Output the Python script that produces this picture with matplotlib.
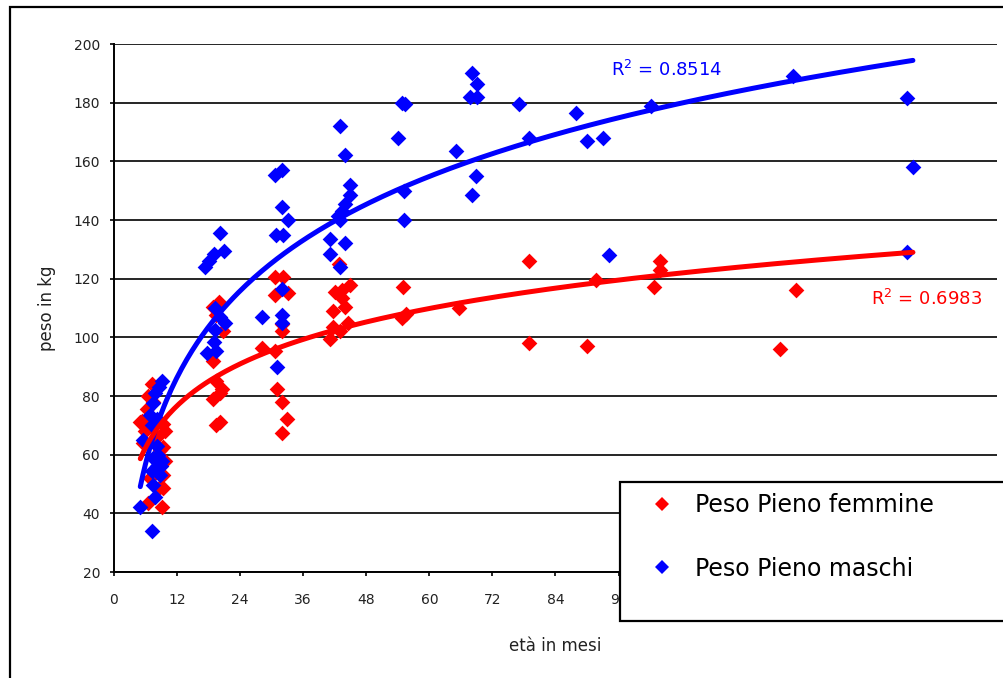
import numpy as np
import matplotlib
matplotlib.use("Agg")
import matplotlib.pyplot as plt
from matplotlib.patches import Rectangle
from matplotlib.lines import Line2D

# eta in mesi / peso in kg, femmine
eta_f = [7.2, 6.5, 6.2, 5.3, 5.0, 5.9, 9.4, 9.7, 5.6, 8.8, 9.4, 9.7, 9.4, 6.9, 8.8,
         9.4, 6.5, 9.1, 7.5, 8.1,
         19.9, 18.9, 19.4, 20.8, 18.9, 19.4, 20.5, 20.2, 18.9, 19.4, 20.2,
         28.1, 30.6, 32.2, 30.6, 33.2, 31.9, 31.9, 30.6, 31.0, 31.9, 32.9, 31.9,
         42.1, 43.3, 44.9, 41.7, 44.0, 43.3, 41.7, 44.6, 41.1, 43.0, 42.9,
         54.9, 54.8, 55.6, 65.7, 78.9, 78.9, 89.9, 91.8,
         102.7, 103.9, 103.9, 126.8, 129.8]
peso_f = [84, 80, 75.5, 71.5, 71, 68, 70.5, 68, 64, 61.5, 62.5, 58, 53, 52, 49,
          48.5, 43.5, 42, 78, 66,
          112, 110.5, 107.5, 102, 92, 85, 82.5, 81, 79, 70, 71,
          96.5, 120.5, 120.5, 114.5, 115, 104.5, 102, 95.5, 82.5, 78, 72, 67.5,
          115.5, 116, 118, 109, 110.5, 113.5, 103.5, 105, 99.5, 102, 125,
          117, 106.5, 108, 110, 126, 98, 97, 119.5,
          117, 126, 123, 96, 116]

# maschi
eta_m = [9.1, 8.6, 7.8, 7.5, 6.9, 7.2, 8.1, 5.6, 8.1, 7.5, 9.1, 8.1, 7.2, 8.8,
         7.5, 7.8, 5.0, 7.2, 8.4, 9.0,
         17.3, 18.0, 19.0, 20.9, 20.2, 19.2, 20.2, 21.1, 19.2, 19.0, 19.4, 17.6,
         28.1, 30.6, 31.9, 31.9, 33.2, 30.8, 32.2, 31.9, 31.9, 31.9, 31.1,
         43.0, 44.0, 44.9, 44.9, 44.0, 43.3, 42.7, 43.0, 41.1, 44.0, 41.1, 43.0,
         54.8, 55.3, 54.1, 55.1, 55.1,
         65.1, 68.1, 69.0, 67.8, 69.0, 68.9, 68.1,
         77.0, 78.9, 87.9, 90.0, 93.0, 94.1, 102.2, 129.2, 150.9, 152.0, 150.8]
peso_m = [85, 83, 81, 77.5, 73.5, 70, 72, 65, 63, 59, 58, 56, 54.5, 53,
          49.5, 45.5, 42, 34, 60, 56,
          124, 126, 128.5, 129.5, 135.5, 110, 107, 105, 102.5, 98.5, 95.5, 94.5,
          107, 155.5, 157, 144.5, 140, 135, 135, 116.5, 107.5, 105, 90,
          172, 162, 152, 148.5, 145.5, 143, 141.5, 140, 133.5, 132, 128.5, 124,
          180, 179.5, 168, 150, 140,
          163.5, 190, 186.5, 182, 182, 155, 148.5,
          179.5, 168, 176.5, 167, 168, 128, 179, 189, 181.5, 158, 129]

label_f = "Peso Pieno femmine"
label_m = "Peso Pieno maschi"
r2_f = "R$^2$ = 0.6983"
r2_m = "R$^2$ = 0.8514"

RED = "#FF0000"
BLUE = "#0000FF"

W, H = 1004, 678
fig = plt.figure(figsize=(W / 100, H / 100), dpi=100)
ax = fig.add_axes([114 / W, 1 - 572 / H, (997 - 114) / W, (572 - 44) / H])


def px(x, y):
    # pixel (from top-left) -> figure fraction
    return x / W, 1 - y / H


ax.scatter(eta_f, peso_f, marker="D", s=64, color=RED, linewidths=0, zorder=3)
ax.scatter(eta_m, peso_m, marker="D", s=64, color=BLUE, linewidths=0, zorder=3)

# logarithmic trend lines
xx = np.linspace(min(eta_f + eta_m), max(eta_f + eta_m), 300)
a_m, b_m = np.polyfit(np.log(eta_m), peso_m, 1)
a_f, b_f = np.polyfit(np.log(eta_f), peso_f, 1)
ax.plot(xx, a_m * np.log(xx) + b_m, color=BLUE, lw=3.6, solid_capstyle="round", zorder=4)
ax.plot(xx, a_f * np.log(xx) + b_f, color=RED, lw=3.6, solid_capstyle="round", zorder=4)

ax.set_xlim(0, 168)
ax.set_ylim(20, 200)
ax.set_xticks(np.arange(0, 169, 12))
ax.set_yticks(np.arange(20, 201, 20))
ax.yaxis.grid(True, color="black", lw=1.2)
ax.set_axisbelow(True)
for s in ["top", "right"]:
    ax.spines[s].set_visible(False)
for s in ["left", "bottom"]:
    ax.spines[s].set_linewidth(1.4)
ax.tick_params(axis="y", length=3, width=1.2, pad=7, labelsize=10, labelcolor="#222222")
ax.tick_params(axis="x", length=3, width=1.2, pad=12, labelsize=10, labelcolor="#222222")

ax.set_xlabel("età in mesi", fontsize=12, labelpad=22, color="#222222")
ax.set_ylabel("peso in kg", fontsize=12, labelpad=13, color="#222222")

ax.text(*px(611, 70), r2_m, transform=fig.transFigure, color=BLUE, fontsize=13,
        va="center", ha="left")
ax.text(*px(871, 299), r2_f, transform=fig.transFigure, color=RED, fontsize=13,
        va="center", ha="left")

# outer chart frame
x0, y0 = px(10, 7)
fig.patches.append(Rectangle((x0, 1 - 700 / H), 1.1, y0 - (1 - 700 / H),
                             transform=fig.transFigure, fill=False,
                             edgecolor="black", lw=1.6, zorder=0))

# legend box
lx, ly = px(620, 621)
fig.patches.append(Rectangle((lx, ly), 1.0, (621 - 482) / H,
                             transform=fig.transFigure, facecolor="white",
                             edgecolor="black", lw=1.6, zorder=5))
handles = [Line2D([], [], marker="D", ls="none", color=RED, markersize=7.5, markeredgewidth=0),
           Line2D([], [], marker="D", ls="none", color=BLUE, markersize=7.5, markeredgewidth=0)]
leg = fig.legend(handles, [label_f, label_m], loc="upper left",
                 bbox_to_anchor=px(650, 493), frameon=False, fontsize=17,
                 handlelength=1.0, handletextpad=0.91, borderpad=0,
                 borderaxespad=0, labelspacing=1.68)
leg.set_zorder(6)

fig.savefig("out.png", dpi=100)
